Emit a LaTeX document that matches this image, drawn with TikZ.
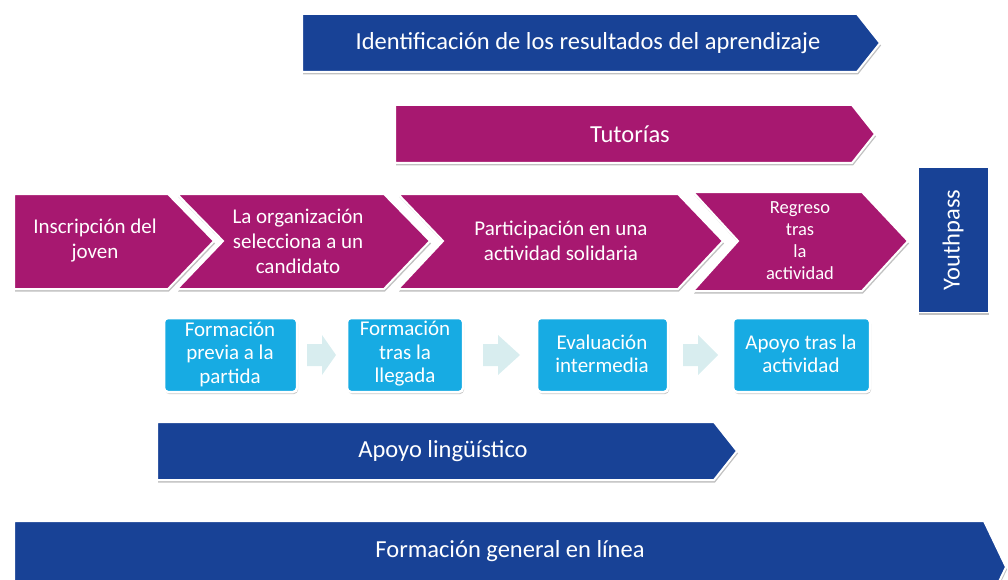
\documentclass[tikz,border=0pt]{standalone}
\usepackage{fontspec}
\setmainfont{Carlito}
\usetikzlibrary{shadows}
\definecolor{navy}{RGB}{24,66,150}
\definecolor{magenta}{RGB}{167,24,112}
\definecolor{sky}{RGB}{23,171,227}
\definecolor{pale}{RGB}{216,237,239}
\tikzset{
  band/.style={draw=white, line width=2pt, line join=miter,
     drop shadow={shadow xshift=1pt, shadow yshift=-2.5pt, opacity=0.35, fill=black!70}},
  navyband/.style={band, fill=navy},
  magband/.style={band, fill=magenta},
  lbl/.style={text=white, align=center, inner sep=0pt},
  big/.style={lbl, font=\fontsize{24.5}{28}\selectfont},
  mid/.style={lbl, font=\fontsize{21}{25}\selectfont},
  boxt/.style={lbl, font=\fontsize{21}{23.5}\selectfont},
  small/.style={lbl, font=\fontsize{18.5}{22}\selectfont},
  stepbox/.style={draw=white, line width=2.5pt, fill=sky, rounded corners=4pt,
     drop shadow={shadow xshift=1pt, shadow yshift=-2pt, opacity=0.3, fill=black!70}},
  pointer/.style={fill=pale, draw=none}
}
\begin{document}
\begin{tikzpicture}[x=1pt,y=-1pt]
\useasboundingbox (0,0) rectangle (1008,580);
\begin{scope}
\clip (0,0) rectangle (1008,580);
% top arrows
\path[navyband] (302,14) -- (857,14) -- (880,43) -- (857,72) -- (302,72) -- cycle;
\node[big] (ident) at (588,43) {Identificación de los resultados del aprendizaje};
\path[magband] (395,105) -- (852,105) -- (875,134) -- (852,163) -- (395,163) -- cycle;
\node[big] (tut) at (630,134) {Tutorías};
% chevrons
\path[magband] (14,194) -- (168,194) -- (214,241) -- (168,289) -- (14,289) -- cycle;
\node[mid] (c1) at (95,241) {Inscripción del\\joven};
\path[magband] (177,194) -- (384,194) -- (430,241) -- (384,289) -- (177,289) -- (223,241) -- cycle;
\node[mid] (c2) at (298,241) {La organización\\selecciona a un\\candidato};
\path[magband] (398,194) -- (678,194) -- (723,241) -- (678,289) -- (398,289) -- (443,241) -- cycle;
\node[mid] (c3) at (561,241) {Participación en una\\actividad solidaria};
\path[magband] (693,192) -- (862,192) -- (908,241) -- (862,291) -- (693,291) -- (738,241) -- cycle;
\node[small] (c4) at (800,241) {Regreso\\tras\\la\\actividad};
% Youthpass
\path[navyband, line width=1pt] (918,168) rectangle (988,312);
\node[big, rotate=90] (yp) at (953,240) {Youthpass};
% blue boxes
\path[stepbox] (164,318) rectangle (297,392);
\node[boxt] (b1) at (230,354) {Formación\\previa a la\\partida};
\path[stepbox] (347,318) rectangle (463,392);
\node[boxt] (b2) at (405,354) {Formación\\tras la\\llegada};
\path[stepbox] (537,318) rectangle (668,392);
\node[boxt] (b3) at (602,354) {Evaluación\\intermedia};
\path[stepbox] (733,318) rectangle (870,392);
\node[boxt] (b4) at (801,354) {Apoyo tras la\\actividad};
% small arrows
\path[pointer] (307,344) -- (322,344) -- (322,335) -- (336,355) -- (322,375) -- (322,366) -- (307,366) -- cycle;
\path[pointer] (483,344) -- (498,344) -- (498,335) -- (520,355) -- (498,375) -- (498,366) -- (483,366) -- cycle;
\path[pointer] (683,344) -- (698,344) -- (698,335) -- (718,355) -- (698,375) -- (698,366) -- (683,366) -- cycle;
% bottom arrows
\path[navyband] (157,422) -- (714,422) -- (737,451) -- (714,480) -- (157,480) -- cycle;
\node[big] (ling) at (443,451) {Apoyo lingüístico};
\path[navyband] (14,521) -- (984,521) -- (1006,567) -- (984,613) -- (14,613) -- cycle;
\node[big] (gen) at (510,551) {Formación general en línea};
\end{scope}
\end{tikzpicture}
\end{document}
